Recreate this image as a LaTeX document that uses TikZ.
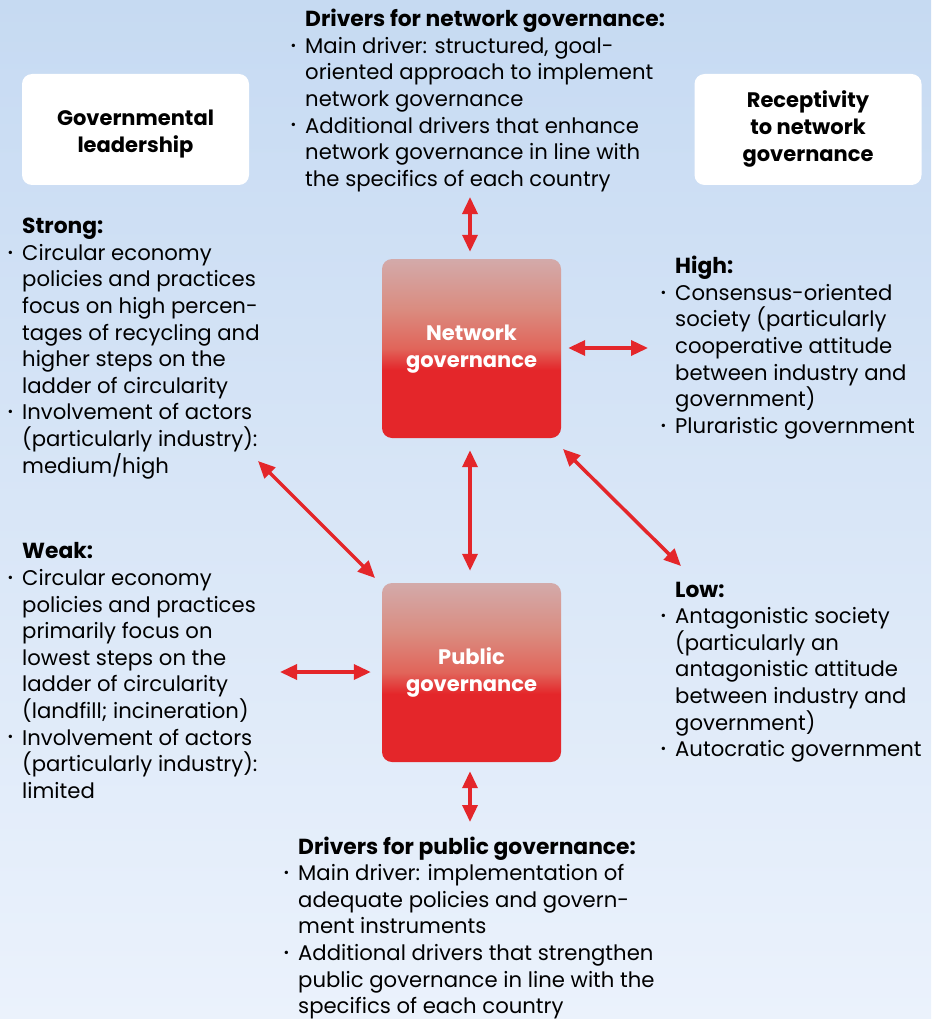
\documentclass[tikz,border=0pt]{standalone}
\usepackage{fontspec}
\setmainfont{Poppins}
\usetikzlibrary{arrows.meta}
\definecolor{bgtop}{RGB}{198,218,242}
\definecolor{bgbot}{RGB}{235,242,252}
\definecolor{ared}{RGB}{228,38,42}
\definecolor{rtop}{RGB}{211,170,170}
\definecolor{rmidb}{RGB}{218,140,128}
\definecolor{rmid}{RGB}{225,100,90}
\pgfdeclareverticalshading{boxgrad}{100bp}{color(0bp)=(ared); color(44bp)=(ared); color(50bp)=(rmid); color(61bp)=(rmidb); color(75bp)=(rtop); color(100bp)=(rtop)}
\newcommand\bul{\leavevmode\llap{\raisebox{0.28ex}{\scalebox{0.65}{\textbullet}}\hspace{9pt}}}
\newcommand\ttl[1]{{\bfseries\fontsize{21.8}{26.6}\selectfont #1}}
\newcommand\lbl[2]{\raisebox{-#1}[\height][\depth]{\begin{tabular}{@{}c@{}}#2\end{tabular}}}
\tikzset{
  redbox/.style={rounded corners=10pt, shading=boxgrad, minimum width=179pt, minimum height=179pt, inner sep=0pt, text=white, font=\bfseries\fontsize{21}{27}\selectfont},
  whitebox/.style={fill=white, rounded corners=10pt, minimum width=227pt, minimum height=111pt, inner sep=0pt, font=\bfseries\fontsize{21}{27}\selectfont},
  txt/.style={anchor=north west, inner sep=0pt, align=left, font=\fontsize{21.2}{26.6}\selectfont},
  dbl/.style={draw=ared, line width=3.5pt, {Triangle[length=17pt,width=15pt]}-{Triangle[length=17pt,width=15pt]}}
}
\begin{document}
\begin{tikzpicture}[x=1pt,y=-1pt]
\useasboundingbox (0,0) rectangle (931,1019);
\shade[top color=bgtop,bottom color=bgbot] (0,0) rectangle (931,1019);

\node[whitebox] (gov) at (135.5,129.5) {\lbl{4pt}{Governmental\\leadership}};
\node[whitebox] (rec) at (808,129.5) {\lbl{0pt}{Receptivity\\to network\\governance}};

\node[redbox] (net) at (471.5,348.5) {\lbl{0pt}{Network\\governance}};
\node[redbox] (pub) at (471.5,672.5) {\lbl{0pt}{Public\\governance}};

\node[txt] (topdrv) at (305,9) {\ttl{Drivers for network governance:}\\
\bul Main driver: structured, goal-\\
oriented approach to implement\\
network governance\\
\bul Additional drivers that enhance\\
network governance in line with\\
the specifics of each country};

\node[txt] (strong) at (22,218) {\ttl{Strong:}\\
\bul Circular economy\\
policies and practices\\
focus on high percen-\\
tages of recycling and\\
higher steps on the\\
ladder of circularity\\
\bul Involvement of actors\\
(particularly industry):\\
medium/high};

\node[txt] (weak) at (22,542.5) {\ttl{Weak:}\\
\bul Circular economy\\
policies and practices\\
primarily focus on\\
lowest steps on the\\
ladder of circularity\\
(landfill; incineration)\\
\bul Involvement of actors\\
(particularly industry):\\
limited};

\node[txt] (high) at (675,256) {\ttl{High:}\\
\bul Consensus-oriented\\
society (particularly\\
cooperative attitude\\
between industry and\\
government)\\
\bul Pluraristic government};

\node[txt] (low) at (675,581.5) {\ttl{Low:}\\
\bul Antagonistic society\\
(particularly an\\
antagonistic attitude\\
between industry and\\
government)\\
\bul Autocratic government};

\node[txt] (botdrv) at (298,836.5) {\ttl{Drivers for public governance:}\\
\bul Main driver: implementation of\\
adequate policies and govern-\\
ment instruments\\
\bul Additional drivers that strengthen\\
public governance in line with the\\
specifics of each country};

\coordinate (tn) at (470,197);
\coordinate (hr) at (648,348);
\coordinate (sl) at (258,461);
\coordinate (pl) at (375,578);
\coordinate (nr) at (563,449);
\coordinate (lw) at (681,566);
\coordinate (wl) at (280,672);
\coordinate (bd) at (470,822);

\draw[dbl, shorten >=7pt] (tn) -- (net.north -| tn);
\draw[dbl, shorten <=7pt] (net.east |- hr) -- (hr);
\draw[dbl, shorten <=12pt, shorten >=12pt] (net.south -| tn) -- (pub.north -| tn);
\draw[dbl] (sl) -- (pl);
\draw[dbl] (nr) -- (lw);
\draw[dbl, shorten >=11pt] (wl) -- (pub.west |- wl);
\draw[dbl, shorten <=9pt] (pub.south -| bd) -- (bd);
\end{tikzpicture}
\end{document}
